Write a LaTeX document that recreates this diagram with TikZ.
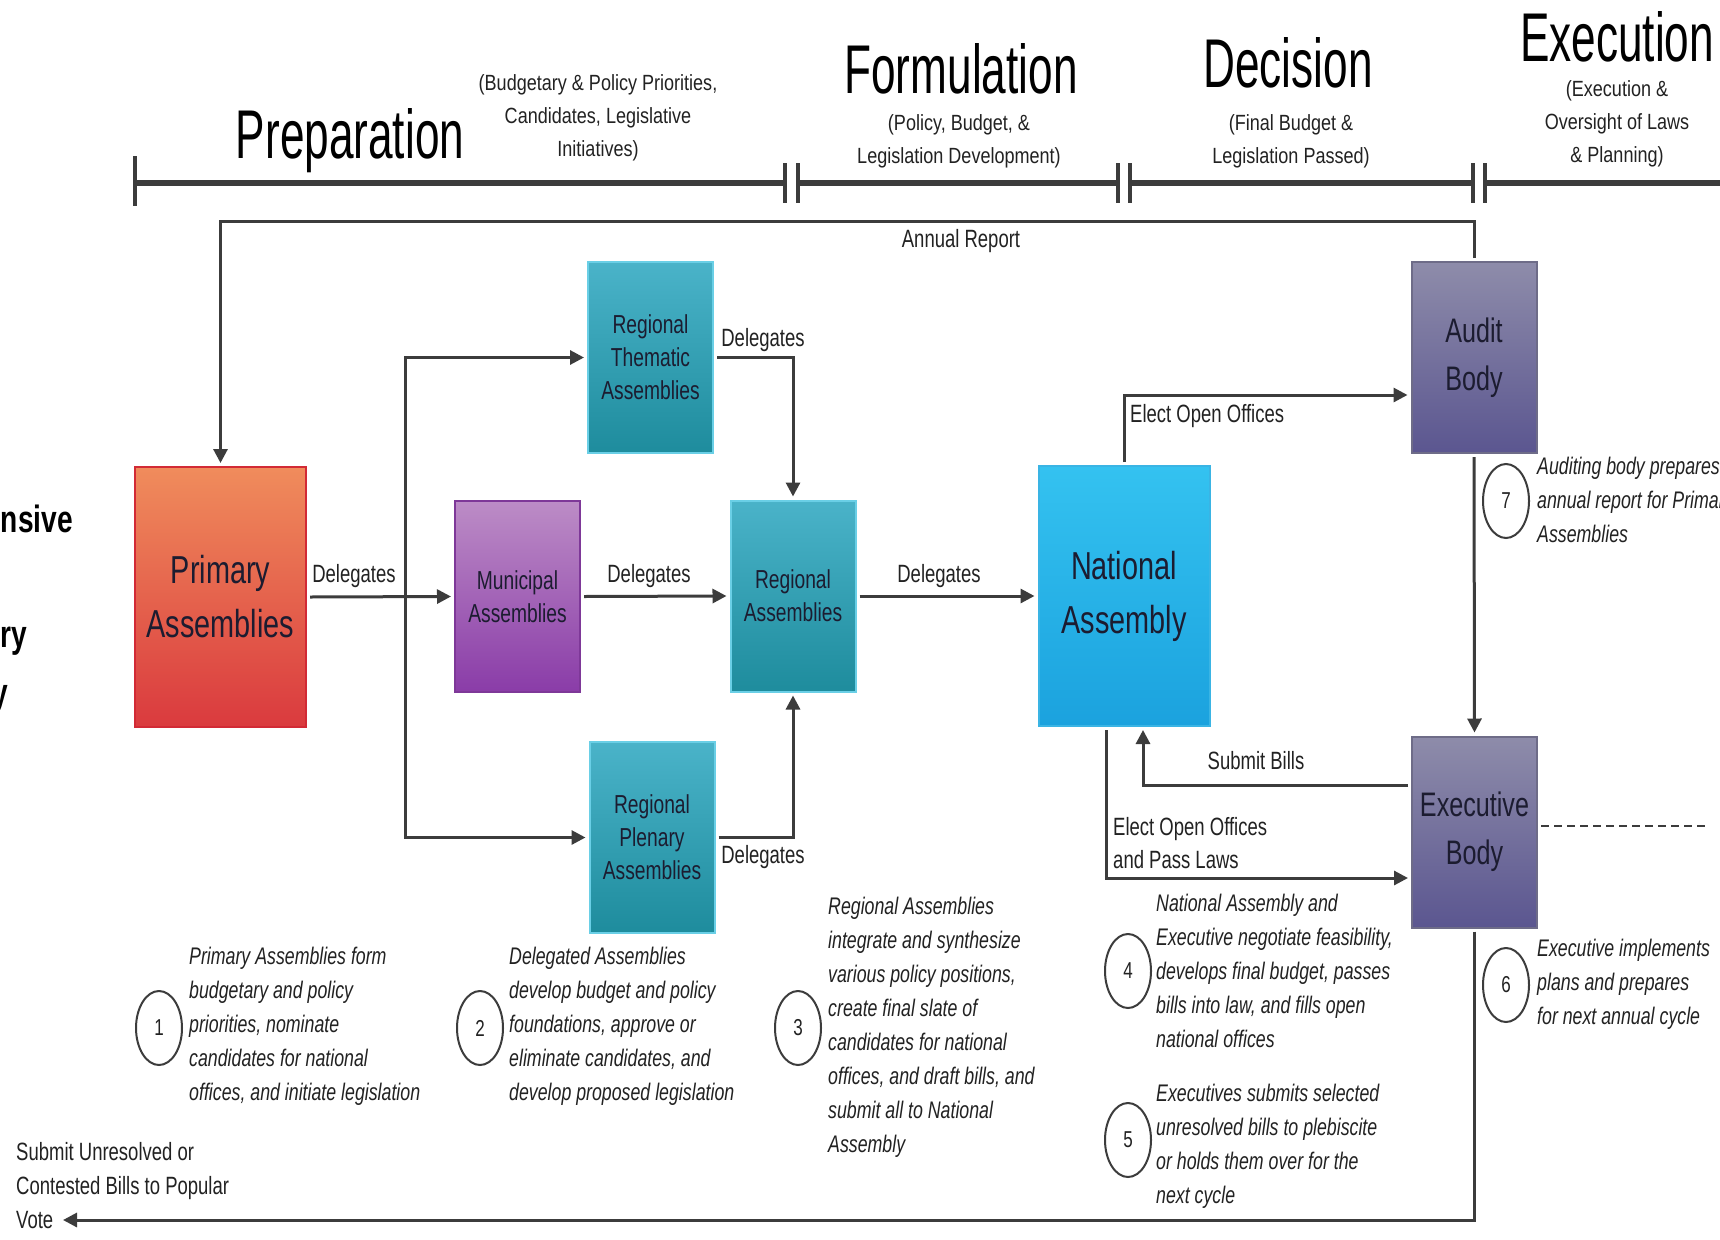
\documentclass[tikz,border=0pt]{standalone}
\usepackage{fontspec}
\setmainfont{Liberation Sans}[FakeStretch=0.74]
\newfontfamily\titlefont{Liberation Sans}[FakeStretch=0.64]
\newfontfamily\subfont{Liberation Sans}[FakeStretch=0.82]
\usetikzlibrary{arrows.meta,shapes.geometric,calc}
\definecolor{linec}{HTML}{3C3C3C}
\definecolor{txt}{HTML}{222222}
\definecolor{boxtxt}{HTML}{1C1C30}
\definecolor{primT}{HTML}{F08C5C}
\definecolor{primB}{HTML}{DA3A3E}
\definecolor{primD}{HTML}{D22A35}
\definecolor{munT}{HTML}{BC8CC6}
\definecolor{munB}{HTML}{8A3CA8}
\definecolor{munD}{HTML}{7E3898}
\definecolor{tealT}{HTML}{4AB3C9}
\definecolor{tealB}{HTML}{1E8C9D}
\definecolor{tealD}{HTML}{6ACFE6}
\definecolor{natT}{HTML}{34C2F0}
\definecolor{natB}{HTML}{1BA2DE}
\definecolor{natD}{HTML}{3AB4E4}
\definecolor{purT}{HTML}{8E8CAA}
\definecolor{purB}{HTML}{5B5690}
\definecolor{purD}{HTML}{6E6C88}
\begin{document}
\begin{tikzpicture}[x=1pt,y=-1pt,
  box/.style={rectangle, line width=2pt, inner sep=0pt, outer sep=4pt, text=boxtxt, align=center},
  bigbox/.style={box, minimum width=171pt, minimum height=260pt, font=\fontsize{39}{54}\selectfont},
  smallbox/.style={box, minimum width=125pt, minimum height=191pt, font=\fontsize{26}{33}\selectfont},
  midbox/.style={box, minimum width=125pt, minimum height=191pt, font=\fontsize{34}{48}\selectfont},
  primstyle/.style={top color=primT, bottom color=primB, draw=primD},
  munstyle/.style={top color=munT, bottom color=munB, draw=munD},
  tealstyle/.style={top color=tealT, bottom color=tealB, draw=tealD},
  natstyle/.style={top color=natT, bottom color=natB, draw=natD},
  purstyle/.style={top color=purT, bottom color=purB, draw=purD},
  conn/.style={line width=3pt, draw=linec},
  arr/.style={conn, -{Triangle[length=14pt,width=14pt]}},
  tl/.style={line width=6pt, draw=linec},
  tick/.style={line width=3.5pt, draw=linec},
  lbl/.style={text=txt, inner sep=0pt, font=\fontsize{25}{33}\selectfont},
  title/.style={text=black, inner sep=0pt, font=\titlefont\fontsize{69}{72}\selectfont},
  subt/.style={text=txt, inner sep=0pt, align=center, font=\subfont\fontsize{22}{33}\selectfont},
  note/.style={text=txt, inner sep=0pt, align=left, anchor=west, font=\itshape\fontsize{24}{34}\selectfont},
  numc/.style={ellipse, draw=linec, line width=2pt, minimum width=46pt, minimum height=74pt, inner sep=0pt, text=txt, font=\fontsize{23}{25}\selectfont},
  side/.style={text=black, inner sep=0pt, anchor=base east, font=\bfseries\fontsize{38}{40}\selectfont}
]
\useasboundingbox (0,0) rectangle (1720,1239);
\clip (0,0) rectangle (1720,1239);
\fill[white] (0,0) rectangle (1720,1239);

% ---------- timeline ----------
\draw[tl] (135,183) -- (785,183);
\draw[tl] (798,183) -- (1118,183);
\draw[tl] (1130,183) -- (1473,183);
\draw[tl] (1485,183) -- (1725,183);
\draw[tick] (135,156) -- (135,206);
\foreach \xx in {785,798,1118,1130,1473,1485} \draw[tick] (\xx,163) -- (\xx,203);

% ---------- phase titles ----------
\node[title, anchor=base] (tprep) at (350,158) {Preparation};
\node[title, anchor=base] (tform) at (961,93) {Formulation};
\node[title, anchor=base] (tdec) at (1288,88) {Decision};
\node[title, anchor=base] (texec) at (1617,62) {Execution};
\node[subt] (sprep) at (598,118) {(Budgetary \& Policy Priorities,\\Candidates, Legislative\\Initiatives)};
\node[subt] (sform) at (959,141) {(Policy, Budget, \&\\Legislation Development)};
\node[subt] (sdec) at (1291,141) {(Final Budget \&\\Legislation Passed)};
\node[subt] (sexec) at (1617,124) {(Execution \&\\Oversight of Laws\\\& Planning)};

% ---------- cut-off side title ----------
\node[side] (side1) at (73,532) {nsive};
\node[side] (side2) at (27,647) {ry};
\node[side] (side3) at (8,705) {y};

% ---------- boxes ----------
\node[bigbox, primstyle] (prim) at (220.5,597) {Primary\\Assemblies};
\node[smallbox, munstyle] (mun) at (517.5,596.5) {Municipal\\Assemblies};
\node[smallbox, tealstyle] (them) at (650.5,357.5) {Regional\\Thematic\\Assemblies};
\node[smallbox, tealstyle] (reg) at (793,596) {Regional\\Assemblies};
\node[smallbox, tealstyle] (plen) at (652,837.5) {Regional\\Plenary\\Assemblies};
\node[bigbox, natstyle] (nat) at (1124,596) {National\\Assembly};
\node[midbox, purstyle] (audit) at (1474,357.5) {Audit\\Body};
\node[midbox, purstyle] (exec) at (1474.5,832) {Executive\\Body};

% ---------- helper coordinates ----------
\coordinate (arY) at (0,221);
\coordinate (br) at (405,596);
\coordinate (eoY) at (0,395);
\coordinate (sbx) at (1143,785);
\coordinate (epx) at (1106,878);
\coordinate (pvend) at (63,1220);
\coordinate (dashY) at (0,826);
\coordinate (dashend) at (1705,826);

% ---------- connectors ----------
\draw[arr] (audit.north) -- (audit.north |- arY) -- (prim.north |- arY) -- (prim.north);
\draw[arr] (prim.east) -- (mun.west);
\draw[arr] (br) |- (them.west);
\draw[arr] (br) |- (plen.west);
\draw[arr] (them.east) -| (reg.north);
\draw[arr] (plen.east) -| (reg.south);
\draw[arr] (mun.east) -- (reg.west);
\draw[arr] (reg.east) -- (nat.west);
\draw[arr] (nat.north) |- (audit.west |- eoY);
\draw[arr] (audit.south) -- (exec.north);
\draw[arr] (exec.west |- sbx) -| (nat.south -| sbx);
\draw[arr] (nat.south -| epx) |- (exec.west |- epx);
\draw[arr] (exec.south) |- (pvend);
\draw[line width=2.5pt, draw=linec, dash pattern=on 8pt off 5pt] (exec.east |- dashY) -- (dashend);

% ---------- connector labels ----------
\node[lbl] (lann) at (961,241) {Annual Report};
\node[lbl] (ld1) at (354,576) {Delegates};
\node[lbl] (ld2) at (649,576) {Delegates};
\node[lbl] (ld3) at (939,576) {Delegates};
\node[lbl] (ldt) at (763,340) {Delegates};
\node[lbl] (ldb) at (763,857) {Delegates};
\node[lbl, anchor=west] (leo) at (1130,416) {Elect Open Offices};
\node[lbl] (lsb) at (1256,761) {Submit Bills};
\node[lbl, anchor=west, align=left] (lep) at (1113,843) {Elect Open Offices\\and Pass Laws};
\node[lbl, anchor=west, align=left, font=\fontsize{25}{34}\selectfont] (lpv) at (16,1186) {Submit Unresolved or\\Contested Bills to Popular\\Vote};

% ---------- numbered notes ----------
\node[numc] (c1) at (159,1028) {1};
\node[note] (n1) at (189,1026) {Primary Assemblies form\\budgetary and policy\\priorities, nominate\\candidates for national\\offices, and initiate legislation};
\node[numc] (c2) at (480,1028) {2};
\node[note] (n2) at (509,1026) {Delegated Assemblies\\develop budget and policy\\foundations, approve or\\eliminate candidates, and\\develop proposed legislation};
\node[numc] (c3) at (798,1028) {3};
\node[note] (n3) at (828,1027) {Regional Assemblies\\integrate and synthesize\\various policy positions,\\create final slate of\\candidates for national\\offices, and draft bills, and\\submit all to National\\Assembly};
\node[numc] (c4) at (1128,971) {4};
\node[note] (n4) at (1156,971) {National Assembly and\\Executive negotiate feasibility,\\develops final budget, passes\\bills into law, and fills open\\national offices};
\node[numc] (c5) at (1128,1140) {5};
\node[note] (n5) at (1156,1146) {Executives submits selected\\unresolved bills to plebiscite\\or holds them over for the\\next cycle};
\node[numc] (c6) at (1506,985) {6};
\node[note] (n6) at (1537,984) {Executive implements\\plans and prepares\\for next annual cycle};
\node[numc] (c7) at (1506,501) {7};
\node[note] (n7) at (1537,500) {Auditing body prepares\\annual report for Primary\\Assemblies};
\end{tikzpicture}
\end{document}
